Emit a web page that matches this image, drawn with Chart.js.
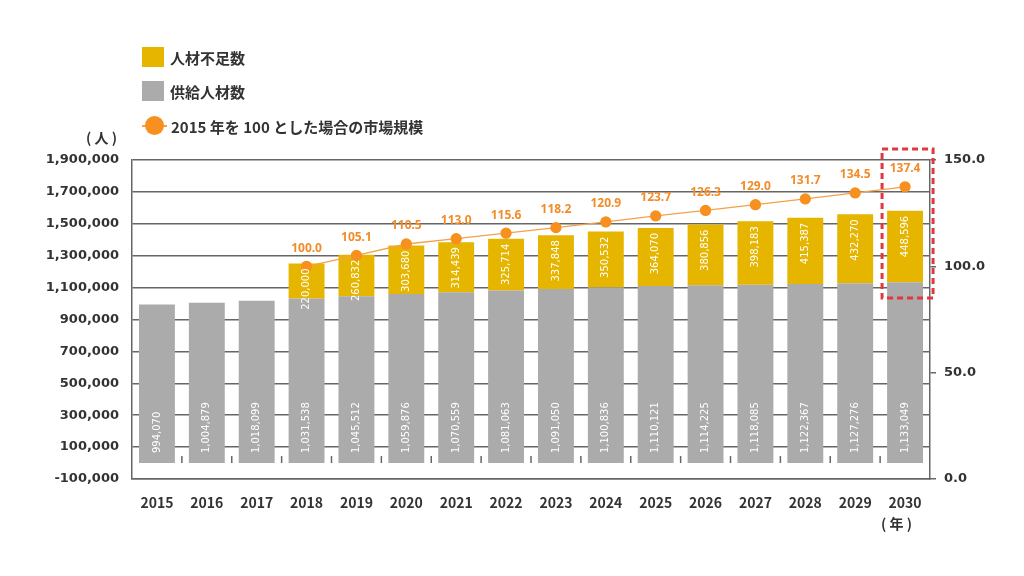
<!DOCTYPE html>
<html lang="ja">
<head>
<meta charset="UTF-8">
<title>人材不足数と市場規模</title>
<script src="https://cdn.jsdelivr.net/npm/chart.js"></script>
<style>
  body { margin: 0; background: #fff; }
  #wrap { position: relative; width: 1024px; height: 576px; font-family: "Noto Sans CJK JP", "Noto Sans", sans-serif; color: #333; }
  #chart { position: absolute; left: 0; top: 0; }
  .leg { position: absolute; left: 142px; height: 22px; display: flex; align-items: center; font-size: 15px; font-weight: bold; }
  .leg .sw { width: 22px; height: 20px; margin-right: 6px; }
  .leg .ln { position: relative; width: 25px; height: 20px; margin-right: 4px; }
  .leg .ln:before { content: ""; position: absolute; left: 0; right: 0; top: 9px; height: 2px; background: #F5A04A; }
  .leg .ln:after { content: ""; position: absolute; left: 3px; top: 0; width: 19px; height: 19px; border-radius: 50%; background: #F7901E; }
  .unit { position: absolute; font-size: 14px; font-weight: bold; white-space: pre; }
</style>
</head>
<body>
<div id="wrap">
  <canvas id="chart" width="1024" height="576"></canvas>
  <div id="legend"></div>
  <div class="unit" style="left:86px; top:127px;">( 人 )</div>
  <div class="unit" style="left:881px; top:513px;">( 年 )</div>
</div>

<script>
const years = ['2015', '2016', '2017', '2018', '2019', '2020', '2021', '2022',
               '2023', '2024', '2025', '2026', '2027', '2028', '2029', '2030'];
const supply = [994070, 1004879, 1018099, 1031538, 1045512, 1059876, 1070559, 1081063,
                1091050, 1100836, 1110121, 1114225, 1118085, 1122367, 1127276, 1133049];
const shortage = [null, null, null, 220000, 260832, 303680, 314439, 325714,
                  337848, 350532, 364070, 380856, 398183, 415387, 432270, 448596];
const marketIndex = [null, null, null, 100.0, 105.1, 110.5, 113.0, 115.6,
                     118.2, 120.9, 123.7, 126.3, 129.0, 131.7, 134.5, 137.4];

const labelShortage = '人材不足数';
const labelSupply = '供給人材数';
const labelIndex = '2015 年を 100 とした場合の市場規模';

const yellow = '#E5B500';
const gray = '#ABABAB';
const orange = '#F7901E';
const gridColor = '#666';

document.addEventListener('DOMContentLoaded', function() {
  // html legend, stacked vertically like the original
  const legend = document.getElementById('legend');
  [[labelShortage, 'sw', yellow, 46], [labelSupply, 'sw', gray, 80], [labelIndex, 'ln', null, 115]].forEach(([txt, kind, col, top]) => {
    const item = document.createElement('div');
    item.className = 'leg';
    item.style.top = top + 'px';
    const mark = document.createElement('span');
    mark.className = kind;
    if (col) mark.style.background = col;
    item.appendChild(mark);
    item.appendChild(document.createTextNode(txt));
    legend.appendChild(item);
  });

  const fmt = n => n.toLocaleString('en-US');

  // value labels on bars and line points
  const valueLabels = {
    id: 'valueLabels',
    afterDatasetsDraw(chart) {
      const ctx = chart.ctx;
      const yScale = chart.scales.y;
      const base = yScale.getPixelForValue(0);

      ctx.save();
      ctx.fillStyle = '#fff';
      ctx.font = '10px "DejaVu Sans"';
      ctx.textBaseline = 'middle';
      // supply: start near the bottom, reading upward
      chart.getDatasetMeta(0).data.forEach((bar, i) => {
        if (supply[i] == null) return;
        ctx.save();
        ctx.translate(bar.x, base - 10);
        ctx.rotate(-Math.PI / 2);
        ctx.textAlign = 'left';
        ctx.fillText(fmt(supply[i]), 0, 0);
        ctx.restore();
      });
      // shortage: hang from the top of the segment
      chart.getDatasetMeta(1).data.forEach((bar, i) => {
        if (shortage[i] == null) return;
        ctx.save();
        ctx.translate(bar.x, bar.y + 5);
        ctx.rotate(-Math.PI / 2);
        ctx.textAlign = 'right';
        ctx.fillText(fmt(shortage[i]), 0, 0);
        ctx.restore();
      });

      // index labels above points
      ctx.fillStyle = '#F28C28';
      ctx.font = 'bold 12px "Noto Sans"';
      ctx.textAlign = 'center';
      chart.getDatasetMeta(2).data.forEach((pt, i) => {
        if (marketIndex[i] == null) return;
        ctx.fillText(marketIndex[i].toFixed(1), pt.x, pt.y - 18);
      });
      ctx.restore();
    }
  };

  // small marks between categories on the zero line + highlight box on 2030
  const extras = {
    id: 'extras',
    beforeDatasetsDraw(chart) {
      const ctx = chart.ctx;
      const x = chart.scales.x;
      const zero = chart.scales.y.getPixelForValue(0);
      ctx.save();
      ctx.strokeStyle = gridColor;
      ctx.lineWidth = 1.5;
      for (let i = 0; i < years.length - 1; i++) {
        const px = (x.getPixelForValue(i) + x.getPixelForValue(i + 1)) / 2;
        ctx.beginPath();
        ctx.moveTo(px, zero);
        ctx.lineTo(px, zero - 7);
        ctx.stroke();
      }
      ctx.restore();
    },
    afterDraw(chart) {
      const ctx = chart.ctx;
      const area = chart.chartArea;
      const cx = chart.scales.x.getPixelForValue(years.length - 1);
      ctx.save();
      ctx.strokeStyle = '#E0383E';
      ctx.lineWidth = 3;
      ctx.setLineDash([6, 4]);
      ctx.strokeRect(cx - 23, area.top - 11, 51, 149);
      ctx.restore();
    }
  };

  const ctx = document.getElementById('chart').getContext('2d');
  new Chart(ctx, {
    data: {
      labels: years,
      datasets: [
        {
          type: 'bar',
          label: labelSupply,
          data: supply,
          backgroundColor: gray,
          stack: 's',
          order: 1,
          categoryPercentage: 1,
          barPercentage: 0.72
        },
        {
          type: 'bar',
          label: labelShortage,
          data: shortage,
          backgroundColor: yellow,
          stack: 's',
          order: 1,
          categoryPercentage: 1,
          barPercentage: 0.72
        },
        {
          type: 'line',
          label: labelIndex,
          data: marketIndex,
          yAxisID: 'y1',
          borderColor: '#F5A04A',
          borderWidth: 1.3,
          pointBackgroundColor: orange,
          pointBorderColor: orange,
          pointRadius: 5,
          order: 0
        }
      ]
    },
    options: {
      responsive: false,
      animation: false,
      layout: { padding: { top: 160 } },
      plugins: {
        legend: { display: false },
        tooltip: { enabled: false }
      },
      scales: {
        x: {
          stacked: true,
          grid: { display: false },
          border: { display: true, color: gridColor, width: 1.5 },
          ticks: {
            color: '#333',
            padding: 7,
            font: { family: '"Noto Sans CJK JP"', size: 14, weight: 'bold' }
          },
          afterFit: s => { s.height = 97; }
        },
        y: {
          stacked: true,
          position: 'left',
          min: -100000,
          max: 1900000,
          ticks: {
            stepSize: 200000,
            color: '#333',
            padding: 13,
            font: { family: '"DejaVu Sans"', size: 13, weight: 'bold' },
            callback: v => fmt(v)
          },
          grid: { color: gridColor, lineWidth: 1.5, drawTicks: false },
          border: { display: true, color: gridColor, width: 1.5 },
          afterFit: s => { s.width = 132; }
        },
        y1: {
          position: 'right',
          min: 0,
          max: 150,
          ticks: {
            stepSize: 50,
            color: '#333',
            padding: 8,
            font: { family: '"DejaVu Sans"', size: 13, weight: 'bold' },
            callback: v => v.toFixed(1)
          },
          grid: { drawOnChartArea: false, color: gridColor, lineWidth: 1.5, tickLength: 6 },
          border: { display: true, color: gridColor, width: 1.5 },
          afterFit: s => { s.width = 94; }
        }
      }
    },
    plugins: [valueLabels, extras]
  });
});
</script>
</body>
</html>
